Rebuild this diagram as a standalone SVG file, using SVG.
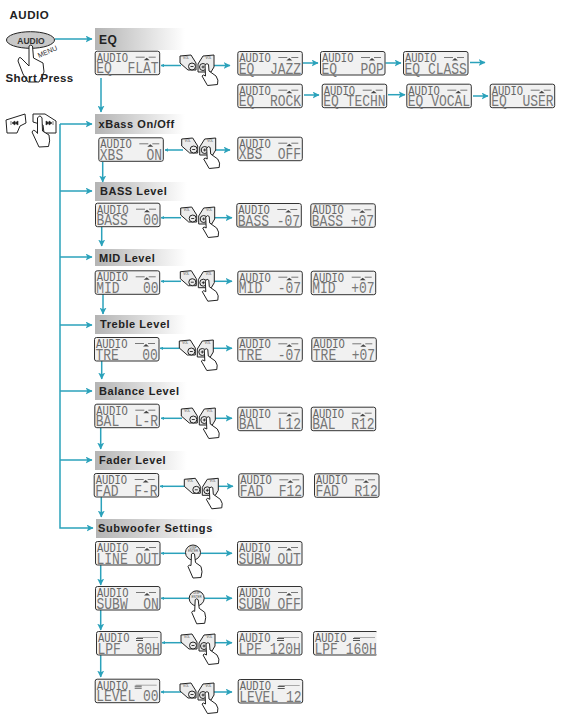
<svg xmlns="http://www.w3.org/2000/svg" width="571" height="715" viewBox="0 0 571 715">
<style>
.h{font:bold 11px "Liberation Sans",Arial,sans-serif;fill:#222;letter-spacing:.55px}
.bar{fill:url(#fade)}
.c{fill:none;stroke:#2ba2bb;stroke-width:1.5;marker-end:url(#ah)}
.s{fill:none;stroke:#2ba2bb;stroke-width:1.5;marker-end:url(#as)}
.o{fill:#fff;stroke:#222;stroke-width:1;stroke-linejoin:round}
.f{fill:#ececec;stroke:#222;stroke-width:1}
.w{fill:#fff;stroke:#222;stroke-width:1;stroke-linejoin:round}
.scr{fill:#f1f1f1;stroke:#333;stroke-width:1}
.top{font:10.500px "Liberation Mono","DejaVu Sans Mono",monospace;fill:#666;transform:translate(2px,11px) scale(1,1.2)}
.lo{font:13px "Liberation Mono","DejaVu Sans Mono",monospace;fill:#777;white-space:pre;transform:translate(1.500px,22.500px) scale(1,1.3)}
.tiny{font:3px "Liberation Sans",Arial,sans-serif;fill:#444;text-anchor:middle}
</style>
<defs>
<linearGradient id="fade"><stop offset="0" stop-color="#b4b4b4"/><stop offset="1" stop-color="#fff"/></linearGradient>
<marker id="ah" viewBox="0 0 6 6" refX="5.500" refY="3" markerWidth="7" markerHeight="7" markerUnits="userSpaceOnUse" orient="auto"><path d="M0 0L6 3L0 6L1.500 3Z" fill="#2ba2bb"/></marker>
<marker id="as" viewBox="0 0 6 6" refX="5.500" refY="3" markerWidth="3.500" markerHeight="3.500" markerUnits="userSpaceOnUse" orient="auto"><path d="M0 0L6 3L0 6Z" fill="#2ba2bb"/></marker>
<clipPath id="cut"><rect x="-1" y="-1" width="64.500" height="27"/></clipPath>
<symbol id="lcd" width="66" height="25" viewBox="0 0 66 25" overflow="visible">
<rect class="scr" x=".5" y=".5" width="64.500" height="23.500" rx="2"/>
<text class="top">AUDIO</text>
<path d="M41 6.500H50M54 6.500H61" stroke="#444" stroke-width=".7"/><path d="M49 9.500L52 7L55 9.500Z" fill="#444"/>
</symbol>
<symbol id="lcd2" width="66" height="25" viewBox="0 0 66 25" overflow="visible">
<rect class="scr" x=".5" y=".5" width="64.500" height="23.500" rx="2"/>
<text class="top">AUDIO</text>
<path d="M41 6.500H62" stroke="#777" stroke-width=".6"/><path d="M40 7.500H47M40 9.500H47" stroke="#444" stroke-width=".9"/>
</symbol>
<symbol id="vol" width="38" height="33" viewBox="0 0 38 33" overflow="visible">
<path class="f" d="M-1 1L10 0L15 8V15H7L-1 8Z"/><circle class="f" cx="11" cy="11.500" r="3.500"/><path d="M9.500 11.500H12.500" stroke="#222" stroke-width=".9"/>
<path class="f" d="M17 9L22 1L33 0V12L30 17H17Z"/><circle class="f" cx="22" cy="12" r="3.500"/><path d="M20.500 12H23.500M22 10.500V13.500" stroke="#222" stroke-width=".9"/>
<text class="tiny" x="5" y="4">VOL</text><text class="tiny" x="27.500" y="4">VOL</text>
<path class="o" d="M24 10Q26 7.500 27.500 9.500L28 16L35 21Q38 25 36.500 29.500L26.500 30.500L21 21Q22 19 24.500 21Z"/>
</symbol>
<symbol id="push" width="24" height="36" viewBox="0 0 24 36" overflow="visible">
<circle class="f" cx="8" cy="8" r="7.500"/><text class="tiny" x="8" y="4">DISP</text><text class="tiny" x="8" y="7.500">ENTER</text>
<path class="o" d="M6.500 9.500Q8 7.500 9.500 9.500L10.500 18L16 22Q18 27 16 33L8 33.500L3 22Q4 19.500 6 21Z"/>
</symbol>
</defs>

<g id="title"><text x="9.500" y="19" class="h" style="font-size:11.500px">AUDIO</text></g>

<g id="headers">
<g id="h-eq"><rect class="bar" x="95" y="28" width="90" height="22"/><text class="h" x="99" y="44" style="font-size:12px">EQ</text></g>
<g id="h-xbass"><rect class="bar" x="95" y="114" width="90" height="20"/><text class="h" x="98.500" y="128">xBass On/Off</text></g>
<g id="h-bass"><rect class="bar" x="95" y="182" width="92" height="19"/><text class="h" x="100" y="195">BASS Level</text></g>
<g id="h-mid"><rect class="bar" x="95" y="249" width="92" height="17"/><text class="h" x="99" y="262">MID Level</text></g>
<g id="h-treble"><rect class="bar" x="95" y="315" width="92" height="19"/><text class="h" x="100" y="328">Treble Level</text></g>
<g id="h-balance"><rect class="bar" x="95" y="382" width="92" height="18"/><text class="h" x="99" y="395">Balance Level</text></g>
<g id="h-fader"><rect class="bar" x="95" y="451" width="92" height="19"/><text class="h" x="99" y="464">Fader Level</text></g>
<g id="h-sub"><rect class="bar" x="96" y="519" width="122" height="19"/><text class="h" x="98" y="532" style="letter-spacing:.65px">Subwoofer Settings</text></g>
</g>

<g id="connectors">
<path class="c" d="M55 39H92"/><path class="c" d="M101 78V112"/>
<path class="c" d="M60 124V528H93"/>
<path class="c" d="M60 124H92"/><path class="c" d="M60 191H92"/><path class="c" d="M60 257H92"/><path class="c" d="M60 325H92"/><path class="c" d="M60 391H92"/><path class="c" d="M60 460H92"/>
<path class="c" d="M102.700 162V182"/><path class="c" d="M101.700 227V246"/><path class="c" d="M103 294V314"/><path class="c" d="M101.700 361V379"/><path class="c" d="M100.700 428V449"/><path class="c" d="M101.300 497V517"/><path class="c" d="M100.700 565V585"/><path class="c" d="M100.700 610V630"/><path class="c" d="M100.700 655V677"/>
<path class="s" d="M181 65.500H161"/><path class="c" d="M212 65.500H230"/>
<path class="c" d="M303 63H318"/><path class="c" d="M385.500 63H401"/><path class="c" d="M470 62.500H485"/>
<path class="c" d="M304 95H319"/><path class="c" d="M388 94.700H405"/><path class="c" d="M473 96H488"/>
<path class="s" d="M183 150H165"/><path class="c" d="M212 150H230"/>
<path class="s" d="M181 217.700H161"/><path class="c" d="M212 217.700H232"/>
<path class="s" d="M181 281.300H161"/><path class="c" d="M212 281.300H232"/>
<path class="s" d="M180 348.300H160"/><path class="c" d="M212 348.300H232"/>
<path class="s" d="M182 418.300H161"/><path class="c" d="M212 418.300H232"/>
<path class="s" d="M185 486.300H160"/><path class="c" d="M215 486.300H233"/>
<path class="s" d="M187 553.300H161"/><path class="c" d="M201 553.300H232"/>
<path class="s" d="M190 598.300H161"/><path class="c" d="M203 598.300H232"/>
<path class="s" d="M182 642.700H162"/><path class="c" d="M213 642.700H232"/>
<path class="s" d="M181 692H161"/><path class="c" d="M213 692H232"/>
</g>

<g id="audio-button">
<ellipse cx="30.500" cy="40" rx="24" ry="8.300" fill="#c9c9c9" stroke="#222" stroke-width="1"/>
<text x="31" y="43.500" text-anchor="middle" style="font:bold 8.500px 'Liberation Sans',Arial,sans-serif;fill:#333">AUDIO</text>
<text transform="translate(39,58) rotate(-24)" style="font:7px 'Liberation Sans',Arial,sans-serif;fill:#333">MENU</text>
<path class="o" d="M29 46Q31 44 32.500 46L33.500 58L43 63L44 72L39 82H28L23 74L18 61Q19 56 21 58L29 66Z"/>
<text x="5.500" y="82" class="h" style="font-size:11.500px;letter-spacing:.3px">Short Press</text>
</g>

<g id="skip-buttons">
<path class="w" d="M6 120L25 114L26 123L20 126L17 133H7Z"/>
<path class="w" d="M33 114H45L56 121V133H44L43 125L33 122Z"/>
<path d="M11 121V125M15 121L12 123L15 125ZM18 121L15 123L18 125Z" fill="#222" stroke="#222" stroke-width=".6"/>
<path d="M53 121V125M49 121L52 123L49 125ZM46 121L49 123L46 125Z" fill="#222" stroke="#222" stroke-width=".6"/>
<path class="o" d="M37.500 118Q40 114 42 118L42.500 131L49 135Q50.500 141 48.500 146.500L39 147L32 132Q33 129 35.500 131L37.500 133.500Z"/>
</g>

<g id="vol-icons">
<use id="vol-eq" href="#vol" x="181" y="55"/>
<use id="vol-xbs" href="#vol" x="182.700" y="138"/>
<use id="vol-bass" href="#vol" x="181.700" y="207"/>
<use id="vol-mid" href="#vol" x="181.300" y="270.700"/>
<use id="vol-tre" href="#vol" x="180.300" y="340"/>
<use id="vol-bal" href="#vol" x="182.300" y="408"/>
<use id="vol-fad" href="#vol" x="185.300" y="478.300"/>
<use id="vol-lpf" href="#vol" x="182" y="634"/>
<use id="vol-lev" href="#vol" x="181" y="683"/>
<use id="push-line" href="#push" x="185" y="544.500"/>
<use id="push-subw" href="#push" x="188.700" y="590.300"/>
</g>

<g id="lcd-eq-flat" transform="translate(94.700,50.700)"><use href="#lcd"/><text class="lo">EQ  FLAT</text></g>
<g id="lcd-eq-jazz" transform="translate(237.300,51)"><use href="#lcd"/><text class="lo">EQ  JAZZ</text></g>
<g id="lcd-eq-pop" transform="translate(320,51)"><use href="#lcd"/><text class="lo">EQ   POP</text></g>
<g id="lcd-eq-class" transform="translate(403,51)"><use href="#lcd"/><text class="lo">EQ CLASS</text></g>
<g id="lcd-eq-rock" transform="translate(237.300,83.700)"><use href="#lcd"/><text class="lo">EQ  ROCK</text></g>
<g id="lcd-eq-techn" transform="translate(321.700,83.700)"><use href="#lcd"/><text class="lo">EQ TECHN</text></g>
<g id="lcd-eq-vocal" transform="translate(406.300,83.700)"><use href="#lcd"/><text class="lo">EQ VOCAL</text></g>
<g id="lcd-eq-user" transform="translate(489.700,83.700)"><use href="#lcd"/><text class="lo">EQ  USER</text></g>
<g id="lcd-xbs-on" transform="translate(98.300,137.300)"><use href="#lcd"/><text class="lo">XBS   ON</text></g>
<g id="lcd-xbs-off" transform="translate(237.300,136.700)"><use href="#lcd"/><text class="lo">XBS  OFF</text></g>
<g id="lcd-bass" transform="translate(95,202.700)"><use href="#lcd"/><text class="lo">BASS  00</text></g>
<g id="lcd-bass-m" transform="translate(236.300,203)"><use href="#lcd"/><text class="lo">BASS -07</text></g>
<g id="lcd-bass-p" transform="translate(310.300,203.300)"><use href="#lcd"/><text class="lo">BASS +07</text></g>
<g id="lcd-mid" transform="translate(94.700,270.300)"><use href="#lcd"/><text class="lo">MID   00</text></g>
<g id="lcd-mid-m" transform="translate(237.300,270.700)"><use href="#lcd"/><text class="lo">MID  -07</text></g>
<g id="lcd-mid-p" transform="translate(310.700,270.700)"><use href="#lcd"/><text class="lo">MID  +07</text></g>
<g id="lcd-tre" transform="translate(94,337)"><use href="#lcd"/><text class="lo">TRE   00</text></g>
<g id="lcd-tre-m" transform="translate(237.300,337.300)"><use href="#lcd"/><text class="lo">TRE  -07</text></g>
<g id="lcd-tre-p" transform="translate(311.300,337.300)"><use href="#lcd"/><text class="lo">TRE  +07</text></g>
<g id="lcd-bal" transform="translate(94.300,403.700)"><use href="#lcd"/><text class="lo">BAL  L-R</text></g>
<g id="lcd-bal-l" transform="translate(237.300,406.700)"><use href="#lcd"/><text class="lo">BAL  L12</text></g>
<g id="lcd-bal-r" transform="translate(310.700,406.700)"><use href="#lcd"/><text class="lo">BAL  R12</text></g>
<g id="lcd-fad" transform="translate(93.700,473)"><use href="#lcd"/><text class="lo">FAD  F-R</text></g>
<g id="lcd-fad-f" transform="translate(238.300,473.300)"><use href="#lcd"/><text class="lo">FAD  F12</text></g>
<g id="lcd-fad-r" transform="translate(314,473.300)"><use href="#lcd"/><text class="lo">FAD  R12</text></g>
<g id="lcd-line" transform="translate(95,541)"><use href="#lcd"/><text class="lo">LINE OUT</text></g>
<g id="lcd-subw-out" transform="translate(237,541)"><use href="#lcd"/><text class="lo">SUBW OUT</text></g>
<g id="lcd-subw-on" transform="translate(95,586)"><use href="#lcd"/><text class="lo">SUBW  ON</text></g>
<g id="lcd-subw-off" transform="translate(237,586)"><use href="#lcd"/><text class="lo">SUBW OFF</text></g>
<g id="lcd-lpf-80" transform="translate(96,631)"><use href="#lcd2"/><text class="lo">LPF  80H</text></g>
<g id="lcd-lpf-120" transform="translate(237,631)"><use href="#lcd2"/><text class="lo">LPF 120H</text></g>
<g id="lcd-lpf-160" transform="translate(313,631)" clip-path="url(#cut)"><use href="#lcd2"/><text class="lo">LPF 160H</text></g>
<g id="lcd-level-00" transform="translate(94.700,678.700)"><use href="#lcd2"/><text class="lo">LEVEL 00</text></g>
<g id="lcd-level-12" transform="translate(237.700,679)"><use href="#lcd2"/><text class="lo">LEVEL 12</text></g>
</svg>
